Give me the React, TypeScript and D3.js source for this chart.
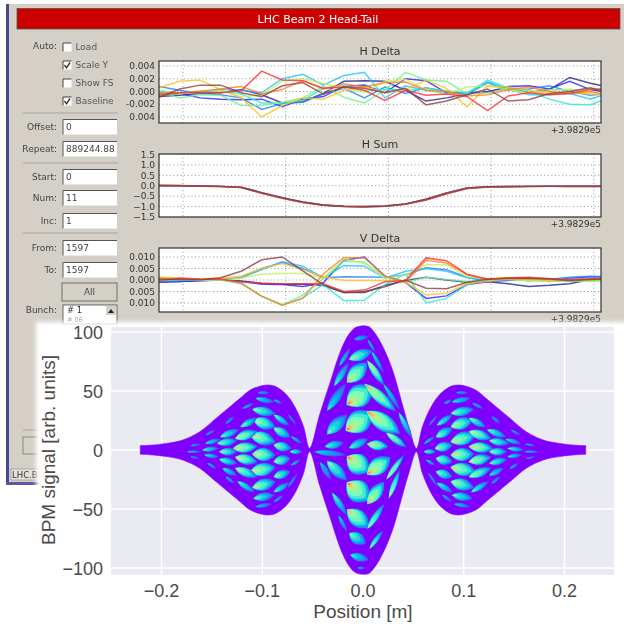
import React from "react";
import * as d3 from "d3";

// ---------- upper panels: values per sample ----------
const sampleIndex = d3.range(0, 23);
const traceColors = ["#202090", "#2020ff", "#2080ff", "#20c0ff", "#30e8d0", "#70f090", "#c0f060", "#ffc020", "#ff8020", "#ff3030", "#904040"];

const hDeltaTraces = [
  [-0.8, -0.6, -0.3, -0.2, 0.3, -0.5, -1.8, -1.6, -0.3, 1.6, 1.7, 1.6, 0.2, -1.5, -1.0, -0.4, 0.0, 0.6, -0.2, 0.3, 2.2, 1.3, 0.6],
  [-0.4, -0.3, -1.0, -1.2, -1.3, -1.2, -2.4, -1.2, -0.8, 0.8, 1.0, -0.2, 2.0, 1.7, -0.2, -0.2, -0.1, 0.8, 0.9, 0.4, 1.6, 0.3, -0.2],
  [0.8, 0.2, -0.3, -0.5, -1.0, -2.8, -1.9, -1.7, -0.4, 0.5, -1.0, 0.7, -0.3, 0.6, 0.0, -0.5, 1.4, 0.2, 0.4, 0.9, 0.0, -0.6, -0.3],
  [0.0, -0.3, -0.1, 0.4, 0.2, -0.2, 2.0, 2.7, 1.0, 2.5, 3.0, -1.0, 0.9, 0.2, -0.3, -0.3, 1.5, 0.4, -0.5, -0.5, -0.3, -1.2, -0.2],
  [-0.5, -0.4, 0.0, 0.1, -0.4, -1.8, -1.8, -1.4, 0.5, 0.9, 0.1, 0.3, 0.2, 0.5, 0.1, -0.2, 1.8, 0.6, 0.1, -1.2, -2.0, -2.1, -0.8],
  [0.0, -1.0, -0.5, -0.6, -2.2, -2.2, -1.7, -1.0, 0.8, -0.9, -1.8, 0.2, 3.0, 1.8, 1.6, -0.4, -0.2, 0.5, -0.2, 0.3, 0.2, 0.4, 0.3],
  [0.3, -0.4, 0.2, 0.1, -0.8, -0.6, 1.6, 2.0, 1.3, 0.4, -0.1, 1.6, 1.9, 0.3, -0.4, 0.7, 0.9, 0.3, -0.3, 0.1, 0.4, -0.2, -0.5],
  [0.6, 1.6, 1.8, 0.3, -1.0, -4.0, -2.2, -1.0, -1.2, 0.2, 0.8, -0.2, 0.3, 1.8, 0.5, -2.4, 0.9, 0.7, 0.2, -0.3, -0.2, -0.4, -0.5],
  [-0.2, -0.2, 0.0, 0.4, 0.8, -0.4, 0.3, 1.7, 0.4, 1.2, 0.7, 1.4, 1.5, 0.2, 0.0, -0.7, -0.5, 0.3, 0.7, 0.0, -0.3, 0.0, -0.6],
  [-0.6, -0.2, -0.1, -0.2, 0.1, 3.2, 1.8, 1.7, 0.5, 0.7, 0.2, -1.4, 0.2, -0.6, -0.4, -0.8, -3.0, -0.7, -0.2, -0.5, -0.3, 0.3, 0.5],
  [-0.9, 0.4, 1.0, 1.0, -0.2, -0.8, 0.9, 1.4, -0.4, 0.7, 0.5, -0.2, 0.5, -2.1, -1.5, -0.5, 0.4, -1.5, -1.3, -0.3, 0.0, 0.6, -0.3],
];

const hSumUpper = [0.0, 0.0, -0.01, -0.03, -0.07, -0.33, -0.57, -0.78, -0.92, -0.98, -1.0, -0.97, -0.87, -0.65, -0.35, -0.11, -0.05, -0.04, -0.03, -0.02, -0.02, -0.02, -0.02];
const hSumLower = [0.02, 0.01, -0.02, -0.04, -0.09, -0.36, -0.6, -0.8, -0.94, -1.0, -1.02, -0.99, -0.89, -0.68, -0.38, -0.13, -0.06, -0.05, -0.04, -0.03, -0.03, -0.03, -0.03];

const vDeltaTraces = [
  [-1.0, -0.6, -0.2, 0.0, -0.4, -1.4, -1.8, -1.7, -2.4, -5.4, -5.4, -2.4, -0.2, 1.2, 0.0, -1.0, -0.8, -1.6, -2.8, -2.3, -1.6, 0.2, 0.4],
  [-0.8, -0.7, -0.3, 0.0, -0.6, -1.8, -2.0, -2.8, -1.2, 8.6, 10.0, 1.6, -1.0, -8.0, -6.9, -2.0, -0.8, 0.0, 0.6, -0.6, 0.8, 1.4, 1.3],
  [0.3, -0.2, 0.0, 0.2, 1.0, 5.0, 7.6, 5.0, 1.0, 1.4, 1.3, 1.2, 2.2, 5.3, 4.5, 1.2, -0.5, -0.2, 0.6, 0.3, 1.2, 1.6, 1.4],
  [0.6, 0.3, 0.0, 0.0, 1.2, 4.4, 8.0, 6.0, 1.0, 6.3, 6.0, 0.8, 3.8, 5.0, 3.8, 1.0, 0.0, 0.2, 0.3, -0.2, 0.3, 0.8, 0.9],
  [-0.4, -0.2, 0.0, 0.1, -1.6, -7.0, -11.0, -7.8, -2.0, -9.0, -8.8, -2.0, 2.6, -10.0, -8.0, -2.0, 0.2, 0.5, -0.4, 0.2, 0.0, -0.4, -0.3],
  [1.2, 0.8, 0.2, 0.0, -1.2, -7.2, -10.8, -6.6, 0.6, 8.2, 7.8, 1.0, -1.0, 1.2, 0.2, -0.6, 0.0, 0.4, -0.2, -0.4, -0.6, -0.2, -0.4],
  [0.8, 0.5, 0.1, 0.0, 0.8, 2.6, 2.8, 2.8, 0.8, 9.2, 7.2, 0.7, 2.2, 6.6, 6.6, 1.4, 0.6, 0.2, -0.2, -0.6, 0.2, -0.8, -0.6],
  [1.2, 1.0, 0.3, 0.8, 1.6, 5.0, 7.2, 4.5, 1.4, -0.2, -0.2, -0.2, -1.0, -6.5, -5.8, -1.4, -0.6, 0.4, 0.2, -0.2, 0.0, 0.2, 0.5],
  [0.3, 0.5, 0.2, 0.6, -1.4, -7.0, -11.0, -8.0, 2.6, 9.8, 9.6, 1.8, -1.0, 8.6, 7.4, 2.4, 0.2, 1.0, 0.8, 0.2, 0.1, 0.5, 0.8],
  [-0.3, 0.8, 0.4, 0.2, -0.8, -1.4, -1.6, -1.6, -1.6, -5.0, -4.4, -0.8, -0.2, 9.6, 8.4, 2.4, 0.4, 1.0, 1.2, 0.6, 0.1, 0.4, 1.0],
  [0.4, 0.2, 0.1, 1.0, 3.8, 8.8, 10.0, 4.0, -2.0, -5.4, -5.0, -3.0, 0.0, -3.6, -3.8, -1.0, 0.3, 0.6, 0.8, 0.4, -0.3, 0.2, 0.4],
];

const hDeltaTicks = [[4, "0.004"], [2, "0.002"], [0, "0.000"], [-2, "-0.002"], [-4, "0.004"]] as const;
const hSumTicks = [[1.5, "1.5"], [1, "1.0"], [0.5, "0.5"], [0, "0.0"], [-0.5, "−0.5"], [-1, "−1.0"], [-1.5, "−1.5"]] as const;
const vDeltaTicks = [[10, "0.010"], [5, "0.005"], [0, "0.000"], [-5, "0.005"], [-10, "0.010"]] as const;
const sampleTicks = [1.17, 6.17, 11.17, 16.17, 21.17];

// ---------- lower chart ----------
const envX = [0.221, 0.212, 0.195, 0.179, 0.162, 0.146, 0.132, 0.122, 0.113, 0.104, 0.096, 0.088, 0.079, 0.073, 0.066, 0.059, 0.053, 0.046, 0.038, 0.03, 0.02, 0.011, 0.005, -0.007, -0.014, -0.022, -0.032, -0.043, -0.053, -0.059, -0.066, -0.073, -0.079, -0.088, -0.096, -0.104, -0.113, -0.122, -0.132, -0.146, -0.162, -0.179, -0.195, -0.212, -0.221];
const envY = [3.7, 4, 5.6, 8.4, 15.5, 26.8, 36.7, 43.8, 50.3, 53.6, 55, 54.2, 49.4, 43.8, 33.9, 19.8, 1.5, 18, 42, 66, 87, 100, 104.8, 104, 98, 84.5, 59, 30, 1.5, 19.8, 33.9, 43.8, 49.4, 54.2, 55, 53.6, 50.3, 43.8, 36.7, 26.8, 15.5, 8.4, 5.6, 4, 3.7];

// each cell: left x, left y, right x, right y, half width, peak colour
const centreCells = [
  [-0.008, 94, 0.005, 96, 1.8, 0.35],
  [-0.013, 77, 0.008, 84, 4, 0.62],
  [-0.015, 58, 0.003, 73, 5.5, 0.78],
  [0.005, 75, 0.02, 56, 2.6, 0.78],
  [-0.015, 39, 0.008, 53, 8, 0.85],
  [0.003, 55, 0.031, 34, 4, 0.82],
  [-0.035, 34, -0.018, 55, 3.2, 0.42],
  [-0.016, 17, 0.008, 31, 8, 0.85],
  [0.005, 32, 0.035, 15, 6, 0.85],
  [-0.035, 14, -0.017, 29, 4.5, 0.52],
  [0.005, 5, 0.024, 3, 3.6, 0.78],
  [0.024, 14, 0.042, 3, 2.6, 0.72],
  [-0.037, 3, -0.02, 6, 2.8, 0.5],
  [-0.013, 2, 0.004, 9, 3, 0.5],
  [0.021, 55, 0.036, 35, 1.8, 0.4],
  [0.036, 31, 0.048, 11, 2, 0.5],
  [-0.023, 72, -0.013, 86, 1.5, 0.42],
  [-0.028, 55, -0.015, 73, 2.5, 0.48],
  [0.005, 93, 0.012, 83, 1.1, 0.36],
  [0.009, 83, 0.02, 66, 1.5, 0.42],
  [-0.015, -6, 0.005, -18, 7.5, 0.85],
  [0.005, -20, 0.026, -7, 6, 0.85],
  [-0.035, -10, -0.017, -25, 4, 0.58],
  [-0.015, -28, 0.005, -42, 8, 0.85],
  [0.005, -45, 0.02, -28, 4.5, 0.8],
  [-0.03, -37, -0.017, -54, 2.4, 0.5],
  [-0.015, -51, 0.005, -65, 6, 0.78],
  [0.005, -66, 0.02, -47, 2.4, 0.65],
  [0.026, -40, 0.036, -18, 2, 0.72],
  [0.024, -24, 0.04, -5, 2, 0.78],
  [-0.013, -71, 0.002, -79, 4.4, 0.55],
  [0.007, -83, 0.019, -69, 1.8, 0.6],
  [-0.012, -89, 0.005, -93, 3, 0.45],
  [-0.005, -100, 0.002, -100, 1.1, 0.3],
  [-0.024, -56, -0.016, -69, 1.5, 0.38],
  [-0.042, -11, -0.032, -25, 2.2, 0.35],
  [-0.047, -1.5, -0.018, -4, 2.2, 0.38],
];

const sideCells = [
  [0.093, 48.6, 0.104, 48.6, 0.9, 0.3],
  [0.089, 40.9, 0.106, 43.8, 1.6, 0.42],
  [0.088, 31, 0.109, 34.4, 2.6, 0.58],
  [0.088, 19.8, 0.108, 25.4, 3.4, 0.68],
  [0.088, 7, 0.111, 12.7, 3.8, 0.72],
  [0.088, -4.3, 0.109, -3.4, 3.8, 0.74],
  [0.088, -14.7, 0.111, -18.4, 3.8, 0.74],
  [0.088, -26.9, 0.109, -31.7, 3.4, 0.66],
  [0.089, -38.2, 0.108, -41, 2.4, 0.52],
  [0.091, -45.8, 0.106, -48, 1.2, 0.36],
  [0.106, 26.8, 0.121, 19.8, 2, 0.55],
  [0.106, 15.5, 0.126, 9.9, 2.8, 0.72],
  [0.106, 2.8, 0.128, 1.4, 3, 0.78],
  [0.106, -9.9, 0.126, -6.2, 3, 0.72],
  [0.106, -22.6, 0.126, -15.6, 2.6, 0.66],
  [0.108, -35.4, 0.124, -26.9, 1.8, 0.5],
  [0.109, 39.5, 0.119, 35.3, 1, 0.34],
  [0.074, 21.2, 0.088, 29.6, 1.8, 0.52],
  [0.073, 11.3, 0.088, 18.3, 2.6, 0.58],
  [0.072, 1.4, 0.088, 4.2, 2.8, 0.62],
  [0.073, -7.1, 0.088, -9.9, 2.8, 0.62],
  [0.073, -18.4, 0.088, -22.6, 2.6, 0.58],
  [0.074, -28.2, 0.088, -35.4, 1.8, 0.48],
  [0.081, 39.5, 0.088, 42.4, 0.9, 0.36],
  [0.079, -38.2, 0.088, -43.8, 0.9, 0.34],
  [0.061, 5.6, 0.071, 11.3, 1, 0.38],
  [0.061, -1.4, 0.072, -1.4, 1.4, 0.52],
  [0.063, -8.5, 0.071, -12.7, 1, 0.38],
  [0.066, 21.2, 0.074, 29.6, 0.7, 0.28],
  [0.065, -19.8, 0.074, -31, 0.8, 0.28],
  [0.124, 17, 0.141, 11.3, 2, 0.52],
  [0.126, 7.9, 0.144, 5.6, 2.2, 0.58],
  [0.126, -1.4, 0.142, -1.4, 2.2, 0.6],
  [0.126, -11.3, 0.142, -8, 2, 0.54],
  [0.126, -21.2, 0.139, -15.6, 1.7, 0.44],
  [0.128, 28.2, 0.136, 22.6, 1, 0.3],
  [0.128, -28.2, 0.136, -22.6, 1, 0.33],
  [0.142, 9, 0.156, 5.6, 1.3, 0.44],
  [0.144, 1.4, 0.159, 0, 1.4, 0.48],
  [0.144, -5.7, 0.157, -4.3, 1.3, 0.44],
  [0.146, -15.6, 0.154, -11.3, 0.9, 0.34],
  [0.147, 17, 0.156, 12.7, 0.8, 0.3],
  [0.161, 5, 0.171, 3.7, 0.7, 0.34],
  [0.161, -1.4, 0.174, -1.4, 0.7, 0.38],
  [0.162, -7.1, 0.171, -5.7, 0.6, 0.3],
];

const mainXTicks = [-0.2, -0.1, 0, 0.1, 0.2];
const mainYTicks = [-100, -50, 0, 50, 100];

// ---------- left panel ----------
const autoOptions = [["Load", false], ["Scale Y", true], ["Show FS", false], ["Baseline", true]] as const;
const fieldRows = [["Offset:", "0", 127], ["Repeat:", "889244.88", 149], ["Start:", "0", 177], ["Num:", "11", 198], ["Inc:", "1", 221], ["From:", "1597", 248], ["To:", "1597", 270]] as const;

const UI = "'DejaVu Sans', sans-serif";
const MAIN = "'Liberation Sans', Arial, sans-serif";
const rainbowStops = ["#8000ff", "#4062fa", "#00b5eb", "#40ebd4", "#80ffb4", "#bfeb8e", "#ffb561", "#ff6232", "#ff0000"];
const rainbow = d3.scaleLinear<string>().domain(rainbowStops.map((_, i) => i / 8)).range(rainbowStops).interpolate(d3.interpolateRgb);

const levelColour = [0.2, 0.32, 0.45, 0.58, 0.7, 0.86, 1];
const levelSize = [1, 0.92, 0.82, 0.66, 0.42, 0.2, 0.09];

function MiniAxes({ top, bottom, title, yDomain, yRange, ticks, series, colors }: any) {
  const x = d3.scaleLinear().domain([0, 21.52]).range([159, 601]);
  const y = d3.scaleLinear().domain(yDomain).range(yRange);
  const line = d3.line<number>().x((_, i) => x(sampleIndex[i])).y((d) => y(d));
  const clip = `clip-${top}`;
  return (
    <g>
      <text x={380} y={top - 6} textAnchor="middle" fontFamily={UI} fontSize={11} fill="#333">{title}</text>
      <rect x={159} y={top} width={442} height={bottom - top} fill="#fff" />
      <clipPath id={clip}><rect x={159} y={top} width={442} height={bottom - top} /></clipPath>
      {ticks.map(([v]: any) => (
        <line key={v} x1={159} x2={601} y1={y(v)} y2={y(v)} stroke="#777" strokeWidth={0.8} strokeDasharray="1 2.6" />
      ))}
      {sampleTicks.map((t) => (
        <line key={t} x1={x(t)} x2={x(t)} y1={top} y2={bottom} stroke="#777" strokeWidth={0.8} strokeDasharray="1 2.6" />
      ))}
      <g clipPath={`url(#${clip})`}>
        {series.map((s: number[], i: number) => (
          <path key={i} d={line(s) as string} fill="none" stroke={colors[i]} strokeWidth={1.5} strokeOpacity={0.8} />
        ))}
      </g>
      <rect x={159} y={top} width={442} height={bottom - top} fill="none" stroke="#333" strokeWidth={1.2} />
      {ticks.map(([v, label]: any) => (
        <text key={v} x={155} y={y(v) + 3.2} textAnchor="end" fontFamily={UI} fontSize={9} fill="#333">{label}</text>
      ))}
      <text x={601} y={bottom + 10} textAnchor="end" fontFamily={UI} fontSize={9} fill="#333">+3.9829e5</text>
    </g>
  );
}

function Input({ y, h, text }: { y: number; h: number; text: string }) {
  return (
    <g>
      <rect x={63} y={y} width={54} height={h} fill="#fff" />
      <path d={`M63 ${y + h}V${y}H117`} fill="none" stroke="#555" strokeWidth={1} />
      <text x={66} y={y + h / 2 + 3.3} fontFamily={UI} fontSize={9} fill="#444">{text}</text>
    </g>
  );
}

function Panel() {
  return (
    <g>
      <rect x={6} y={4} width={618} height={481} fill="#d4d0c8" />
      <rect x={6} y={4} width={3} height={481} fill="#4a4a90" />
      <rect x={6} y={482} width={40} height={3} fill="#5a5aa0" />
      <rect x={17} y={8.5} width={603} height={20.5} fill="#cc0000" stroke="#555" strokeWidth={0.8} />
      <text x={318} y={22.5} textAnchor="middle" fontFamily={UI} fontSize={11} fill="#fff">LHC Beam 2 Head-Tail</text>
      <text x={57} y={49} textAnchor="end" fontFamily={UI} fontSize={9} fill="#444">Auto:</text>
      {autoOptions.map(([label, on], i) => {
        const cy = 47 + i * 18;
        return (
          <g key={label}>
            <rect x={63} y={cy - 4} width={8.5} height={8.5} fill="#fff" />
            <path d={`M63 ${cy + 4.5}V${cy - 4}H71.5`} fill="none" stroke="#444" strokeWidth={1} />
            {on && <path d={`M64.5 ${cy}L66.5 ${cy + 2.8}L70 ${cy - 2.5}`} fill="none" stroke="#333" strokeWidth={1.4} />}
            <text x={75.5} y={cy + 3.2} fontFamily={UI} fontSize={9} fill="#555">{label}</text>
          </g>
        );
      })}
      {[113, 163, 233].map((y) => (
        <line key={y} x1={23} x2={118} y1={y} y2={y} stroke="#999" strokeWidth={0.8} />
      ))}
      {fieldRows.map(([label, value, cy]) => (
        <g key={label}>
          <text x={57} y={cy + 3.2} textAnchor="end" fontFamily={UI} fontSize={9} fill="#444">{label}</text>
          <Input y={cy - 7.5} h={15} text={value} />
        </g>
      ))}
      <rect x={62} y={283} width={55} height={18} fill="#d4d0c8" stroke="#555" strokeWidth={0.8} />
      <text x={89.5} y={295} textAnchor="middle" fontFamily={UI} fontSize={9} fill="#444">All</text>
      <text x={57} y={313} textAnchor="end" fontFamily={UI} fontSize={9} fill="#444">Bunch:</text>
      <rect x={63} y={305} width={54} height={19} fill="#fff" stroke="#444" strokeWidth={0.8} />
      <text x={67} y={313} fontFamily={UI} fontSize={8.5} fill="#333"># 1</text>
      <text x={67} y={322} fontFamily={UI} fontSize={6.5} fill="#999"># 06</text>
      <rect x={106} y={306} width={10} height={9} fill="#d4d0c8" />
      <path d="M108 313L111 309L114 313Z" fill="#222" />
      <line x1={23} x2={40} y1={430} y2={430} stroke="#999" strokeWidth={0.8} />
      <rect x={23} y={437} width={20} height={17} fill="#d4d0c8" stroke="#777" strokeWidth={0.8} />
      <rect x={11} y={469} width={30} height={11} fill="#e4e2dc" stroke="#888" strokeWidth={0.6} />
      <text x={12} y={478} fontFamily={UI} fontSize={8.5} fill="#333">LHC.B</text>
      <MiniAxes top={61} bottom={123} title="H Delta" yDomain={[4, -4]} yRange={[66, 117]} ticks={hDeltaTicks} series={hDeltaTraces} colors={traceColors} />
      <MiniAxes top={154} bottom={217} title="H Sum" yDomain={[1.5, -1.5]} yRange={[154.5, 217]} ticks={hSumTicks} series={[hSumUpper, hSumLower, hSumLower, hSumUpper]} colors={["#2020ff", "#30a060", "#ff3030", "#904040"]} />
      <MiniAxes top={248} bottom={312} title="V Delta" yDomain={[10, -10]} yRange={[257, 303]} ticks={vDeltaTicks} series={vDeltaTraces} colors={traceColors} />
    </g>
  );
}

function Cell({ cell, grow, px, py }: { cell: number[]; grow: number; px: (v: number) => number; py: (v: number) => number }) {
  const [x0, y0, x1, y1, half, heat] = cell;
  const lengthGrow = 1.12;
  const mid = [(px(x0) + px(x1)) / 2, (py(y0) + py(y1)) / 2];
  const a = [mid[0] + (px(x0) - mid[0]) * lengthGrow, mid[1] + (py(y0) - mid[1]) * lengthGrow];
  const b = [mid[0] + (px(x1) - mid[0]) * lengthGrow, mid[1] + (py(y1) - mid[1]) * lengthGrow];
  const dx = b[0] - a[0];
  const dy = b[1] - a[1];
  const len = Math.hypot(dx, dy) || 1;
  const n = [-dy / len, dx / len];
  const w = Math.abs(py(half) - py(0)) * 2 * grow;
  const anchor = [a[0] + dx * 0.06, a[1] + dy * 0.06];
  return (
    <g>
      {levelSize.map((s, k) => {
        const at = (p: number[]) => [anchor[0] + (p[0] - anchor[0]) * s, anchor[1] + (p[1] - anchor[1]) * s];
        const A = at(a);
        const B = at(b);
        const c1 = at([mid[0] + n[0] * w, mid[1] + n[1] * w]);
        const c2 = at([mid[0] - n[0] * w, mid[1] - n[1] * w]);
        const d = `M${A[0]} ${A[1]}Q${c1[0]} ${c1[1]} ${B[0]} ${B[1]}Q${c2[0]} ${c2[1]} ${A[0]} ${A[1]}Z`;
        return <path key={k} d={d} fill={rainbow(levelColour[k] * heat)} />;
      })}
    </g>
  );
}

function MainChart() {
  const x = d3.scaleLinear().domain([-0.2, 0.2]).range([161.5, 564.5]);
  const y = d3.scaleLinear().domain([-100, 100]).range([568, 332]);
  const upper = envX.map((v, i) => [x(v), y(envY[i])]);
  const lower = envX.map((v, i) => [x(v), y(-envY[i])]).reverse();
  const outline = d3.line().curve(d3.curveCatmullRom.alpha(0.5));
  const d = `${outline(upper as any)}L${(outline(lower as any) as string).slice(1)}Z`;
  const mirrored = sideCells.map(([a, b, c, e, h, t]) => [-c, e, -a, b, h, t]);
  return (
    <g>
      <rect x={36} y={322} width={600} height={320} fill="#fff" filter="url(#soft)" />
      <rect x={111} y={327} width={503} height={248} fill="#eaeaf2" />
      {mainXTicks.map((t) => (
        <line key={t} x1={x(t)} x2={x(t)} y1={327} y2={575} stroke="#fff" strokeWidth={1.5} />
      ))}
      {mainYTicks.map((t) => (
        <line key={t} x1={111} x2={614} y1={y(t)} y2={y(t)} stroke="#fff" strokeWidth={1.5} />
      ))}
      <g filter="url(#fine)">
        <path d={d} fill="#7f00ff" stroke="#7f00ff" strokeWidth={0.6} />
        {centreCells.map((c, i) => <Cell key={`c${i}`} cell={c} grow={1.2} px={x} py={y} />)}
        {sideCells.map((c, i) => <Cell key={`r${i}`} cell={c} grow={1.5} px={x} py={y} />)}
        {mirrored.map((c, i) => <Cell key={`l${i}`} cell={c} grow={1.5} px={x} py={y} />)}
      </g>
      {mainYTicks.map((t) => (
        <text key={t} x={103} y={y(t) + 6.5} textAnchor="end" fontFamily={MAIN} fontSize={18} fill="#4a4a4a">
          {d3.format("d")(t).replace("-", "−")}
        </text>
      ))}
      {mainXTicks.map((t) => (
        <text key={t} x={x(t)} y={597} textAnchor="middle" fontFamily={MAIN} fontSize={18} fill="#4a4a4a">
          {d3.format(".1f")(t).replace("-", "−")}
        </text>
      ))}
      <text x={363} y={618} textAnchor="middle" fontFamily={MAIN} fontSize={19} fill="#4a4a4a">Position [m]</text>
      <text transform="translate(55 450) rotate(-90)" textAnchor="middle" fontFamily={MAIN} fontSize={19} fill="#4a4a4a">BPM signal [arb. units]</text>
    </g>
  );
}

export default function App() {
  return (
    <svg width={624} height={628} style={{ position: "absolute", left: 0, top: 0 }}>
      <defs>
        <filter id="soft" x="-5%" y="-5%" width="110%" height="110%"><feGaussianBlur stdDeviation={2} /></filter>
        <filter id="fine" x="-5%" y="-5%" width="110%" height="110%"><feGaussianBlur stdDeviation={0.6} /></filter>
        <filter id="ui" x="0" y="0" width="100%" height="100%"><feGaussianBlur stdDeviation={0.45} /></filter>
      </defs>
      <rect width={624} height={628} fill="#fff" />
      <g filter="url(#ui)"><Panel /></g>
      <g><MainChart /></g>
    </svg>
  );
}
